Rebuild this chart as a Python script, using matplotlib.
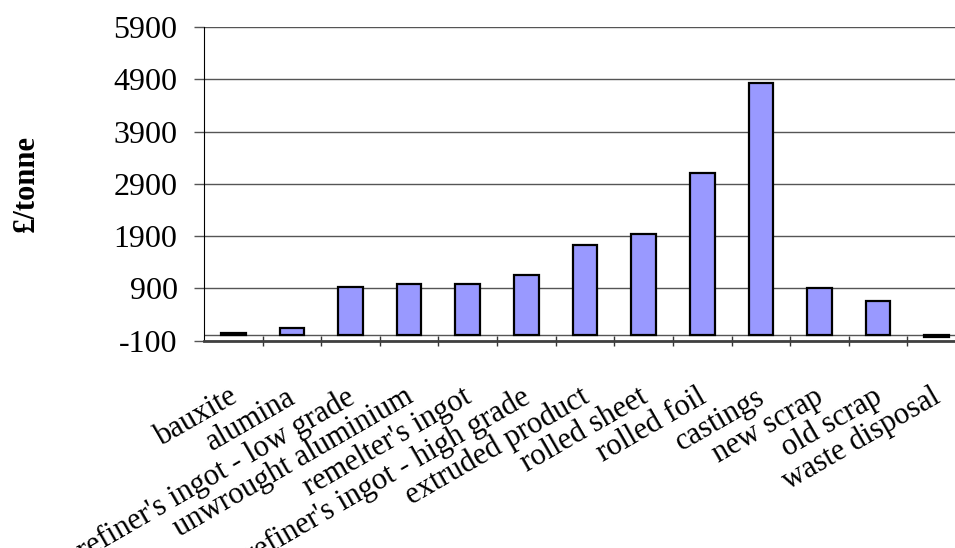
import matplotlib
matplotlib.use('Agg')
import matplotlib.pyplot as plt
import matplotlib.transforms as mtransforms
import numpy as np

plt.rcParams['font.family'] = ['Liberation Serif', 'DejaVu Serif']

categories = ['bauxite', 'alumina', "refiner's ingot - low grade",
              'unwrought aluminium', "remelter's ingot",
              "refiner's ingot - high grade", 'extruded product',
              'rolled sheet', 'rolled foil', 'castings', 'new scrap',
              'old scrap', 'waste disposal']
price = [40, 150, 920, 990, 990, 1150, 1730, 1950, 3100, 4830, 910, 650, -30]
yticks = [-100, 900, 1900, 2900, 3900, 4900, 5900]

fig = plt.figure(figsize=(9.55, 5.48), dpi=100)
ax = fig.add_axes([0.2136, 0.3783, 0.7979, 0.5724])

x = np.arange(len(categories))
ax.bar(x, price, width=0.42, color='#9999FF', edgecolor='black',
       linewidth=1.6, zorder=3)

ax.set_xlim(-0.5, len(categories) - 0.5)
ax.set_ylim(-100, 5900)
ax.set_yticks(yticks)
ax.set_yticklabels([str(v) for v in yticks], fontsize=23)
ax.grid(axis='y', color='#555555', linewidth=1.0, zorder=0)
ax.axhline(0, color='#555555', linewidth=1.0, zorder=2)

# category labels between ticks, ticks on the boundaries
ax.set_xticks(x)
ax.set_xticklabels(categories, fontsize=22, rotation=30, ha='right',
                   rotation_mode='anchor')
ax.tick_params(axis='x', which='major', length=0, pad=30)
shift = mtransforms.ScaledTranslation(-4 / 72, 0, fig.dpi_scale_trans)
for lab in ax.get_xticklabels():
    lab.set_transform(lab.get_transform() + shift)
ax.set_xticks(np.arange(len(categories)) + 0.5, minor=True)
ax.tick_params(axis='x', which='minor', direction='inout', length=7,
               width=1.0, color='#333333')
ax.tick_params(axis='y', length=7, width=1.0, color='#555555', pad=12)

ax.spines['top'].set_visible(False)
ax.spines['right'].set_visible(False)
ax.spines['left'].set_color('black')
ax.spines['bottom'].set_color('#404040')
ax.spines['bottom'].set_linewidth(2.0)

ax.set_ylabel('£/tonne', fontsize=22, fontweight='bold')
ax.yaxis.set_label_coords(-0.214, 0.5)

fig.savefig('out.png', dpi=100)
